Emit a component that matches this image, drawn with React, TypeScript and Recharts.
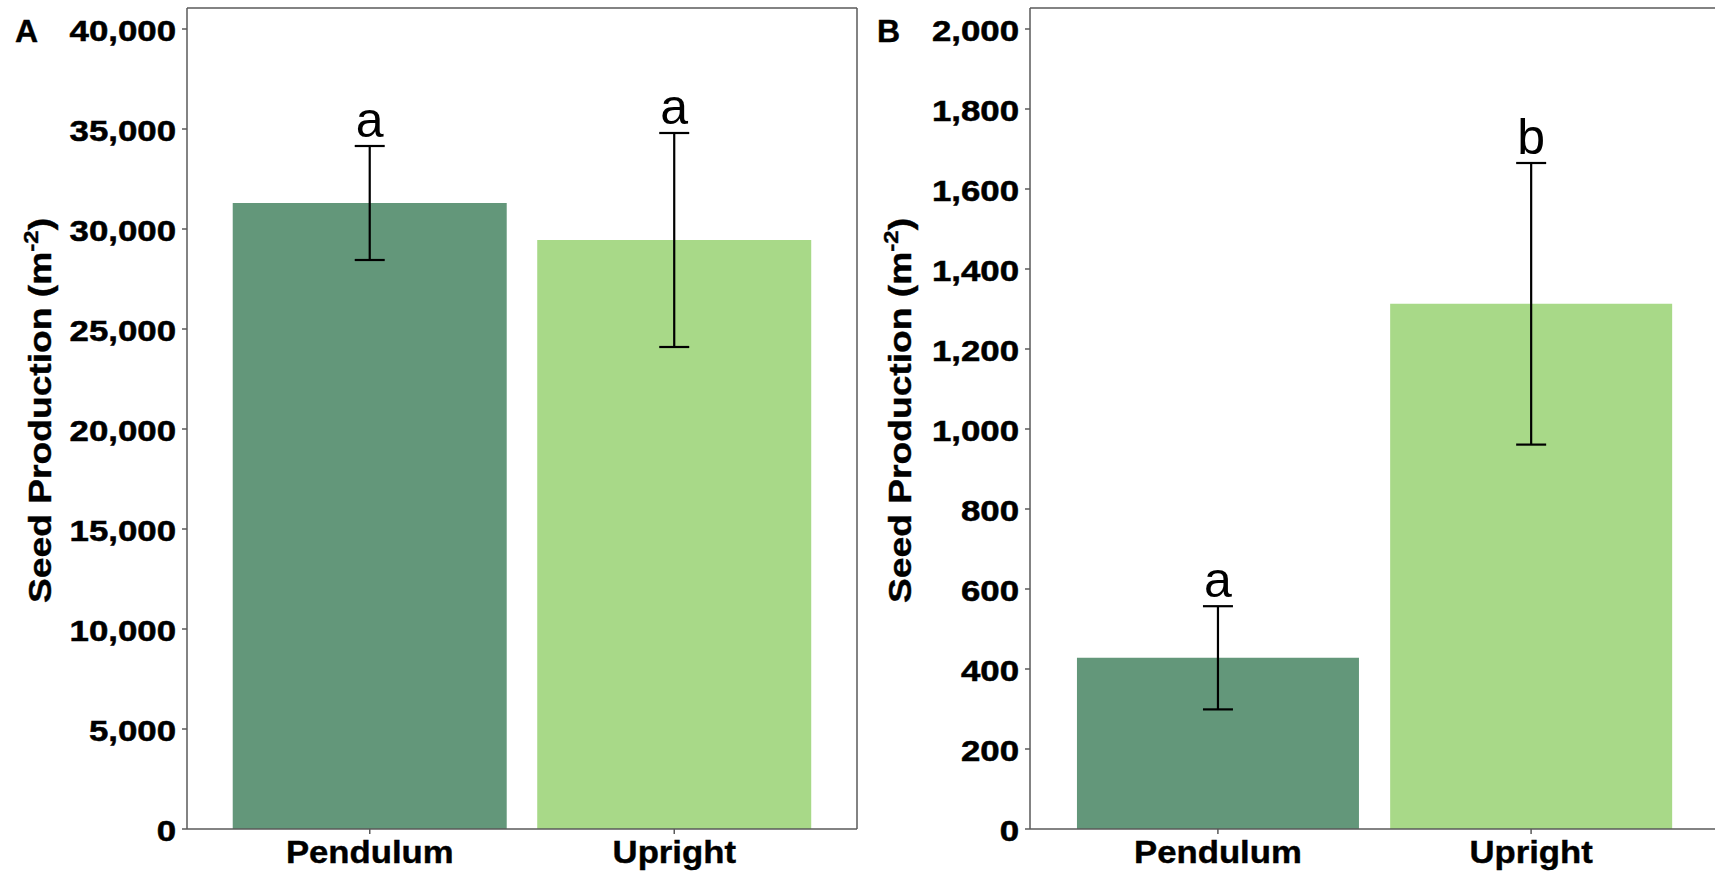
import React from 'react';
import { BarChart, Bar, XAxis, YAxis, ErrorBar, Cell, ReferenceDot } from 'recharts';

const categories = ['Pendulum', 'Upright'];
const seedA = [31300, 29450];
const errA = [2850, 5350];
const lettersA = ['a', 'a'];
const seedB = [428, 1313];
const errB = [129, 352];
const lettersB = ['a', 'b'];
const ticksA = [0, 5000, 10000, 15000, 20000, 25000, 30000, 35000, 40000];
const ticksB = [0, 200, 400, 600, 800, 1000, 1200, 1400, 1600, 1800, 2000];
const colors = ['#63977A', '#A8D988'];

const FONT = '"Liberation Sans", Arial, Helvetica, sans-serif';
const AXIS = '#5a5a5a';

const fmt = (v: number) => v.toLocaleString('en-US');

function YTick(props: any) {
  const { x, y, payload } = props;
  return (
    <g transform={`translate(${x},${y + 12}) scale(1.2,1)`}>
      <text x={0} y={0} textAnchor="end" fontFamily={FONT} fontWeight="bold" fontSize={29} fill="#000" stroke="#000" strokeWidth={0.5}>
        {fmt(payload.value)}
      </text>
    </g>
  );
}

function XTick(props: any) {
  const { x, y, payload } = props;
  return (
    <g transform={`translate(${x},${y + 23}) scale(1.085,1)`}>
      <text x={0} y={0} textAnchor="middle" fontFamily={FONT} fontWeight="bold" fontSize={32} fill="#000" stroke="#000" strokeWidth={0.4}>
        {payload.value}
      </text>
    </g>
  );
}

function makeYLabel(panel: string, panelX: number) {
  return (props: any) => {
    const vb = props.viewBox || {};
    const vx = typeof vb.x === 'number' ? vb.x : 0;
    const vy = typeof vb.y === 'number' ? vb.y : 8;
    const vh = typeof vb.height === 'number' ? vb.height : 821;
    const cx = vx + 51;
    const cy = vy + vh / 2 - 8;
    return (
      <g>
        <text x={panelX} y={42} fontFamily={FONT} fontWeight="bold" fontSize={32} fill="#000" stroke="#000" strokeWidth={0.4}>
          {panel}
        </text>
        <g transform={`translate(${cx},${cy}) rotate(-90) scale(1.2,1)`}>
          <text x={0} y={0} textAnchor="middle" fontFamily={FONT} fontWeight="bold" fontSize={31} fill="#000" stroke="#000" strokeWidth={0.4}>
            Seed Production (m
            <tspan fontSize={20} dy={-13}>-2</tspan>
            <tspan dy={13}>)</tspan>
          </text>
        </g>
      </g>
    );
  };
}

type PanelProps = {
  seed: number[];
  err: number[];
  letters: string[];
  ticks: number[];
  domainMax: number;
  width: number;
  yAxisWidth: number;
  padding: number;
  panel: string;
  panelX: number;
};

function Panel({ seed, err, letters, ticks, domainMax, width, yAxisWidth, padding, panel, panelX }: PanelProps) {
  const data = categories.map((name, i) => ({ name, value: seed[i], err: err[i] }));
  const axisLine = { stroke: AXIS, strokeWidth: 1.5 };
  return (
    <BarChart
      width={width}
      height={873}
      data={data}
      margin={{ top: 7, right: 2, bottom: 0, left: 0 }}
      barCategoryGap="5%"
    >
      <XAxis
        dataKey="name"
        height={44}
        padding={{ left: padding, right: padding }}
        tick={<XTick />}
        tickSize={5}
        tickMargin={6}
        axisLine={axisLine}
        tickLine={axisLine}
        interval={0}
      />
      <XAxis
        xAxisId="top"
        orientation="top"
        dataKey="name"
        height={1}
        tick={false}
        tickLine={false}
        axisLine={axisLine}
        padding={{ left: padding, right: padding }}
      />
      <YAxis
        type="number"
        domain={[0, domainMax]}
        ticks={ticks}
        interval={0}
        width={yAxisWidth}
        tick={<YTick />}
        tickSize={5}
        tickMargin={6}
        axisLine={axisLine}
        tickLine={axisLine}
        label={{ content: makeYLabel(panel, panelX) }}
      />
      <YAxis
        yAxisId="right"
        orientation="right"
        type="number"
        width={1}
        domain={[0, domainMax]}
        tick={false}
        tickLine={false}
        axisLine={axisLine}
      />
      <Bar dataKey="value" isAnimationActive={false}>
        {data.map((d, i) => (
          <Cell key={d.name} fill={colors[i]} />
        ))}
        <ErrorBar dataKey="err" width={15} strokeWidth={2.2} stroke="#000" direction="y" isAnimationActive={false} />
      </Bar>
      <Bar dataKey="value" xAxisId="top" yAxisId="right" fill="none" isAnimationActive={false} legendType="none" />
      {data.map((d, i) => (
        <ReferenceDot
          key={'l' + d.name}
          x={d.name}
          y={d.value + d.err}
          r={0}
          fill="none"
          stroke="none"
          ifOverflow="visible"
          label={{ value: letters[i], position: 'top', offset: 9, fontSize: 50, fontFamily: FONT, fill: '#000' }}
        />
      ))}
    </BarChart>
  );
}

export default function App() {
  return (
    <div
      style={{
        position: 'absolute',
        left: 0,
        top: 0,
        width: 1715,
        height: 873,
        overflow: 'hidden',
        background: '#fff',
      }}
    >
      <div style={{ position: 'absolute', left: 0, top: 0 }}>
        <Panel
          seed={seedA}
          err={errA}
          letters={lettersA}
          ticks={ticksA}
          domainMax={41050}
          width={860}
          yAxisWidth={187}
          padding={30.5}
          panel="A"
          panelX={15}
        />
      </div>
      <div style={{ position: 'absolute', left: 860, top: 0 }}>
        <Panel
          seed={seedB}
          err={errB}
          letters={lettersB}
          ticks={ticksB}
          domainMax={2052.5}
          width={862}
          yAxisWidth={170}
          padding={31.3}
          panel="B"
          panelX={17}
        />
      </div>
    </div>
  );
}
